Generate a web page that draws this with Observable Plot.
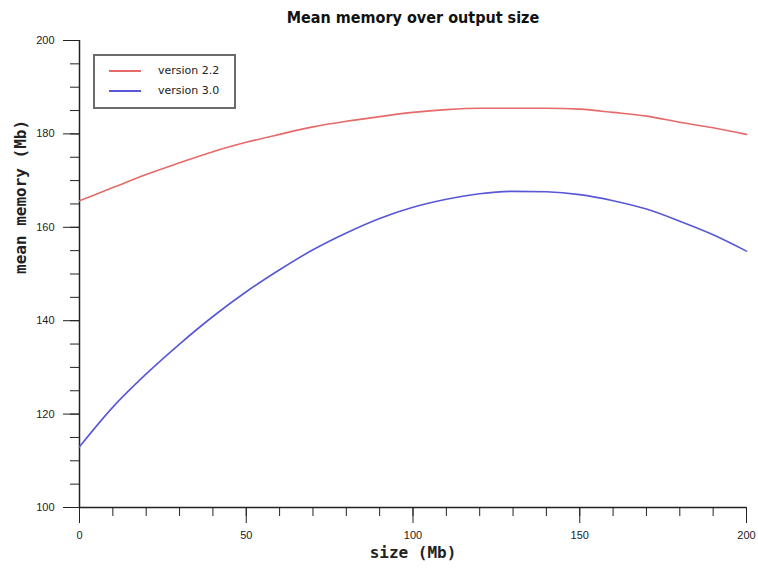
<!DOCTYPE html>
<html><head><meta charset="utf-8">
<script src="https://cdn.jsdelivr.net/npm/d3@7"></script>
<script src="https://cdn.jsdelivr.net/npm/@observablehq/plot@0.6"></script>
<style>
body{margin:0;background:#fff;}
#wrap{position:relative;width:758px;height:572px;}
#legend{position:absolute;left:93px;top:54px;width:139px;height:51px;border:2px solid #6b6b6b;background:#fff;font:11px "DejaVu Sans",sans-serif;color:#222;}
.sw{position:absolute;left:14px;width:32px;height:2px;}
.lab{position:absolute;left:63px;line-height:14px;}
</style></head>
<body><div id="wrap"><div id="legend"></div></div>
<script>
const sizes = [0,10,20,30,40,50,60,70,80,90,100,110,120,130,140,150,160,170,180,190,200];
const memV22 = [165.7,168.5,171.3,173.8,176.2,178.2,179.9,181.5,182.7,183.7,184.6,185.2,185.5,185.5,185.5,185.3,184.6,183.8,182.5,181.3,179.9];
const memV30 = [113.0,121.5,128.6,135.0,140.9,146.2,150.9,155.2,158.8,161.9,164.3,166.0,167.2,167.7,167.6,167.0,165.7,163.9,161.3,158.4,154.9];
const seriesNames = ["version 2.2","version 3.0"];
const seriesColors = ["#e66a6a","#5858d6"];
const yMajorTicks = [100,120,140,160,180,200];
const yMinorTicks = [100,105,110,115,120,125,130,135,140,145,150,155,160,165,170,175,180,185,190,195,200];
const xMajorTicks = [0,50,100,150,200];
const xMinorTicks = [0,10,20,30,40,50,60,70,80,90,100,110,120,130,140,150,160,170,180,190,200];
const titleText = "Mean memory over output size";
const xLabel = "size (Mb)";
const yLabel = "mean memory (Mb)";

const rows = [];
[memV22, memV30].forEach((vals, k) => vals.forEach((v, i) => rows.push({size: sizes[i], mem: v, series: seriesNames[k]})));

const tickFont = {fontSize: 11, fontFamily: "Liberation Sans, Arial, sans-serif"};
const chart = Plot.plot({
  width: 758, height: 572,
  marginLeft: 79, marginRight: 12, marginTop: 40, marginBottom: 65,
  style: {background: "#fff", color: "#222", overflow: "visible"},
  x: {domain: [0, 200]},
  y: {domain: [100, 200]},
  color: {domain: seriesNames, range: seriesColors},
  marks: [
    Plot.axisY(yMinorTicks, {tickSize: 9, tickFormat: () => "", label: null, stroke: "#222"}),
    Plot.axisY(yMajorTicks, {tickSize: 16, tickPadding: 9, label: null, stroke: "#222", fill: "#222", ...tickFont}),
    Plot.axisX(xMinorTicks, {tickSize: 9, tickFormat: () => "", label: null, stroke: "#222"}),
    Plot.axisX(xMajorTicks, {tickSize: 16, tickPadding: 8, label: null, stroke: "#222", fill: "#222", ...tickFont}),
    Plot.ruleX([0], {stroke: "#222", strokeWidth: 1.5}),
    Plot.ruleY([100], {stroke: "#222", strokeWidth: 1.5}),
    Plot.line(rows, {x: "size", y: "mem", z: "series", stroke: "series", strokeWidth: 1.6, curve: "monotone-x"}),
    Plot.text([titleText], {frameAnchor: "top", dy: -29, fontSize: 16, fontWeight: "bold", fontFamily: "DejaVu Sans Condensed, DejaVu Sans, sans-serif", fill: "#111"}),
    Plot.text([xLabel], {frameAnchor: "bottom", dy: 50, fontSize: 16, fontWeight: "bold", fontFamily: "DejaVu Sans Mono, monospace", fill: "#222"}),
    Plot.text([yLabel], {frameAnchor: "left", dx: -59, rotate: -90, fontSize: 16, fontWeight: "bold", fontFamily: "DejaVu Sans Mono, monospace", fill: "#222"})
  ]
});
document.getElementById("wrap").prepend(chart);

const legend = document.getElementById("legend");
seriesNames.forEach((name, k) => {
  const sw = document.createElement("div");
  sw.className = "sw"; sw.style.top = (14 + 20 * k) + "px"; sw.style.background = seriesColors[k];
  const lab = document.createElement("div");
  lab.className = "lab"; lab.style.top = (8 + 20 * k) + "px"; lab.textContent = name;
  legend.append(sw, lab);
});
</script>
</body></html>
